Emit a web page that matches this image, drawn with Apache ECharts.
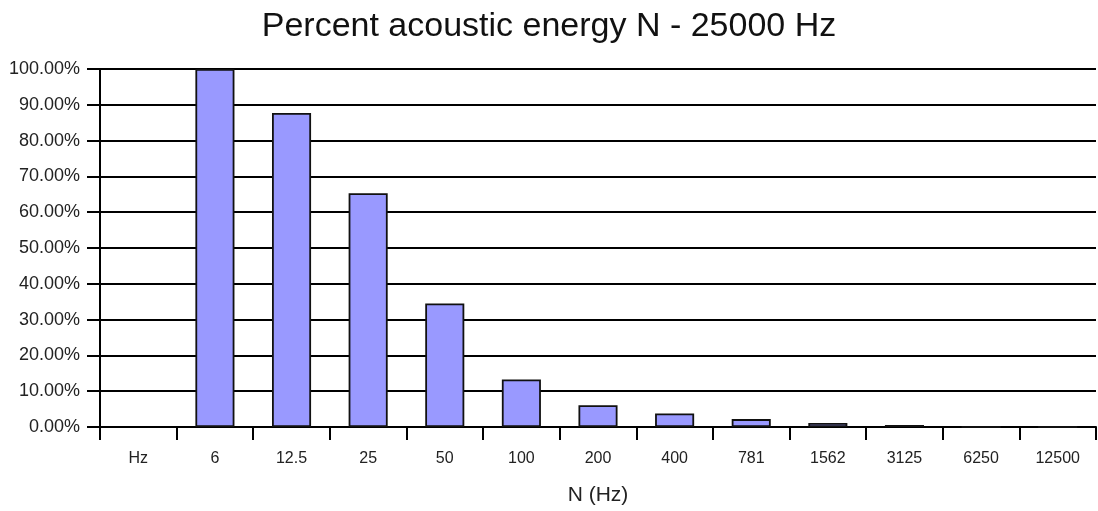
<!DOCTYPE html>
<html>
<head>
<meta charset="utf-8">
<script src="https://cdn.jsdelivr.net/npm/echarts@6/dist/echarts.min.js"></script>
<style>
  html, body { margin: 0; padding: 0; background: #fff; }
  #chart { width: 1098px; height: 511px; }
</style>
</head>
<body>
<div id="chart"></div>
<script>
// Frequency bands (Hz) on the category axis
const categories = ['Hz', '6', '12.5', '25', '50', '100', '200', '400', '781', '1562', '3125', '6250', '12500'];
// Share of total acoustic energy per band, in percent
const energyPercent = [null, 100, 87.7, 65.3, 34.5, 13.3, 6.1, 3.8, 2.2, 1.1, 0.55, 0, 0];
// Value axis range and step (percent)
const yMin = 0;
const yMax = 100;
const yStep = 10;

const chart = echarts.init(document.getElementById('chart'));
const font = '"Liberation Sans", Arial, Helvetica, sans-serif';

chart.setOption({
  animation: false,
  backgroundColor: '#ffffff',
  title: {
    text: 'Percent acoustic energy N - 25000 Hz',
    left: 'center',
    top: 5,
    textStyle: { fontFamily: font, fontSize: 34, fontWeight: 'normal', color: '#111' }
  },
  grid: { left: 100, right: 2, top: 69, bottom: 84, outerBoundsMode: 'none', containLabel: false },
  xAxis: {
    type: 'category',
    data: categories,
    name: 'N (Hz)',
    nameLocation: 'middle',
    nameGap: 58,
    nameTextStyle: { fontFamily: font, fontSize: 21, color: '#222' },
    axisLine: { show: true, lineStyle: { color: '#000', width: 2 } },
    axisTick: { show: true, length: 13, inside: false, alignWithLabel: false, lineStyle: { color: '#000', width: 2 } },
    axisLabel: { margin: 24, fontFamily: font, fontSize: 16, color: '#222' },
    splitLine: { show: false }
  },
  yAxis: {
    type: 'value',
    min: yMin,
    max: yMax,
    interval: yStep,
    axisLine: { show: true, lineStyle: { color: '#000', width: 2 } },
    axisTick: { show: true, length: 13, lineStyle: { color: '#000', width: 2 } },
    axisLabel: {
      margin: 20,
      fontFamily: font,
      fontSize: 18,
      color: '#222',
      formatter: v => v.toFixed(2) + '%'
    },
    splitLine: { show: true, lineStyle: { color: '#000', width: 1.8 } }
  },
  series: [{
    type: 'bar',
    data: energyPercent,
    barWidth: '51%',
    itemStyle: { color: '#9999ff', borderColor: '#111', borderWidth: 1.8 }
  }]
});
</script>
</body>
</html>
